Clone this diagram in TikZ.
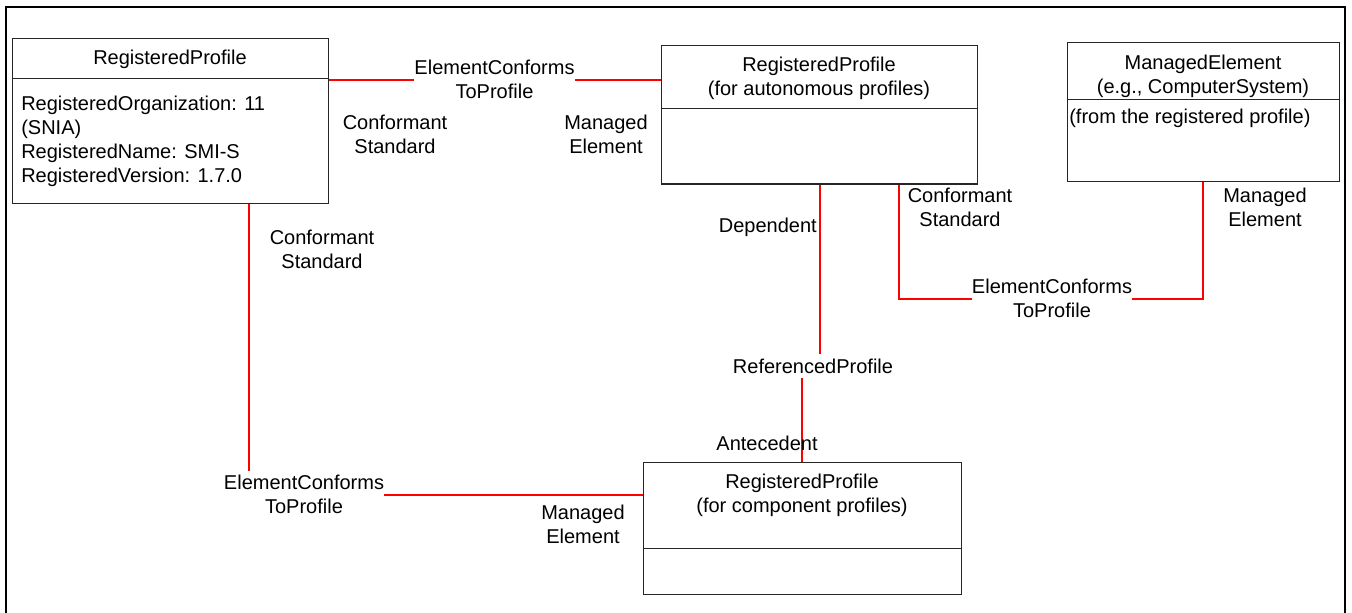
\documentclass[tikz,border=0pt]{standalone}
\usepackage{fontspec}
\setmainfont{Liberation Sans}
\usetikzlibrary{fit,backgrounds}
\newcommand{\stacked}[2][c]{\begin{tabular}{@{}#1@{}}#2\end{tabular}}

\begin{document}
\begin{tikzpicture}[x=0.75pt, y=-0.75pt, font=\fontsize{15}{18}\selectfont,
  classbox/.style={draw=black!85, line width=0.75pt, inner sep=0pt},
  divider/.style={draw=black!85, line width=0.75pt},
  assoc/.style={draw=red, line width=1.1pt},
  assoclabel/.style={fill=white, inner xsep=0pt, inner ysep=1pt},
  role/.style={inner sep=0pt}]
\useasboundingbox (0,0) rectangle (1352,613);
\draw[line width=1.5pt] (6,613) -- (6,7) -- (1345,7) -- (1345,613);

\node[classbox, fit={(12,39) (328,203)}] (rp) {};
\draw[divider] (rp.west |- 0,79) -- (rp.east |- 0,79);
\node (rptitle) at (170,59) {RegisteredProfile};
\node[anchor=north west, inner sep=0pt] (rpattr) at (21,93) {\stacked[l]{RegisteredOrganization: 11\\(SNIA)\\RegisteredName: SMI-S\\RegisteredVersion: 1.7.0}};

\node[classbox, fit={(661,46) (977,184)}] (rpa) {};
\draw[divider] (rpa.west |- 0,109) -- (rpa.east |- 0,109);
\node[inner sep=0pt] (rpatitle) at (819,79) {\stacked{RegisteredProfile\\(for autonomous profiles)}};

\node[classbox, fit={(1067,43) (1339,182)}] (me) {};
\draw[divider] (me.west |- 0,100) -- (me.east |- 0,100);
\node[inner sep=0pt] (metitle) at (1203,77) {\stacked{ManagedElement\\(e.g., ComputerSystem)}};
\node[anchor=west, inner sep=0pt] (mebody) at (1069,118) {(from the registered profile)};

\node[classbox, fit={(643,462) (961,594)}] (rpc) {};
\draw[divider] (rpc.west |- 0,548) -- (rpc.east |- 0,548);
\node[inner sep=0pt] (rpctitle) at (802,496) {\stacked{RegisteredProfile\\(for component profiles)}};

\node[assoclabel] (ecp1) at (494.5,82) {\stacked{ElementConforms\\ToProfile}};
\node[assoclabel] (ecp2) at (304,497) {\stacked{ElementConforms\\ToProfile}};
\node[assoclabel] (ecp3) at (1052,301) {\stacked{ElementConforms\\ToProfile}};
\node[assoclabel, inner ysep=3pt] (refp) at (813,366) {ReferencedProfile};

\begin{pgfonlayer}{background}
\draw[assoc] (rp.east |- 0,80) -- (ecp1.west |- 0,80);
\draw[assoc] (ecp1.east |- 0,80) -- (rpa.west |- 0,80);
\draw[assoc] (rp.south -| 249,0) -- (ecp2.north -| 249,0);
\draw[assoc] (ecp2.east |- 0,495) -- (rpc.west |- 0,495);
\draw[assoc] (rpa.south -| 899,0) |- (ecp3.west |- 0,299);
\draw[assoc] (ecp3.east |- 0,299) -| (me.south -| 1203,0);
\draw[assoc] (rpa.south -| 820,0) -- (refp.north -| 820,0);
\draw[assoc] (refp.south -| 802,0) -- (rpc.north -| 802,0);
\end{pgfonlayer}

\node[role] (cs1) at (395,137) {\stacked{Conformant\\Standard}};
\node[role] (mel1) at (606,137) {\stacked{Managed\\Element}};
\node[role] (cs2) at (322,252) {\stacked{Conformant\\Standard}};
\node[role, anchor=east] (dep) at (817,227) {Dependent};
\node[role] (cs3) at (960,210) {\stacked{Conformant\\Standard}};
\node[role] (mel2) at (1265,210) {\stacked{Managed\\Element}};
\node[role] (ant) at (767,443) {Antecedent};
\node[role] (mel3) at (583,527) {\stacked{Managed\\Element}};
\end{tikzpicture}
\end{document}
